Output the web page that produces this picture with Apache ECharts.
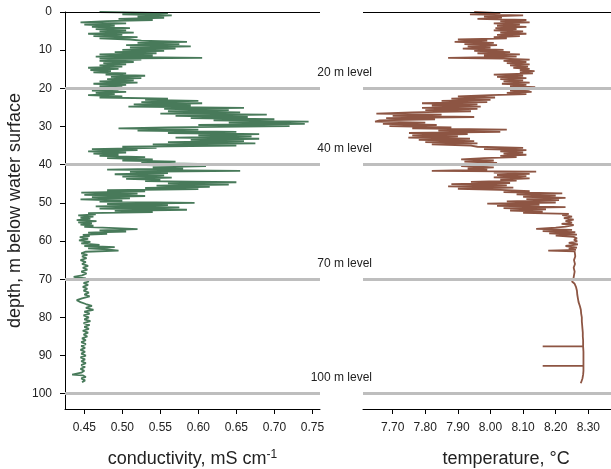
<!DOCTYPE html>
<html><head><meta charset="utf-8">
<script src="https://cdn.jsdelivr.net/npm/echarts@6/dist/echarts.min.js"></script>
<style>html,body{margin:0;padding:0;background:#fff}#c{width:611px;height:469px}</style>
</head><body><div id="c"></div>
<script>
const depthTicks = [0,10,20,30,40,50,60,70,80,90,100];
const condTicks = [0.45,0.50,0.55,0.60,0.65,0.70,0.75];
const tempTicks = [7.70,7.80,7.90,8.00,8.10,8.20,8.30];
const levels = [20,40,70,100];
const levelLabels = ['20 m level','40 m level','70 m level','100 m level'];

const condDepth = [
0.0,0.3,0.6,0.9,1.2,1.5,1.8,2.1,2.4,2.7,
3.0,3.3,3.6,3.9,4.2,4.5,4.8,5.1,5.4,5.7,
6.0,6.3,6.6,6.9,7.2,7.5,7.8,8.1,8.4,8.7,
9.0,9.3,9.6,9.9,10.2,10.5,10.8,11.1,11.4,11.7,
12.0,12.2,12.5,12.8,13.1,13.4,13.7,14.0,14.3,14.6,
14.9,15.2,15.5,15.8,16.1,16.4,16.7,17.0,17.3,17.6,
17.9,18.2,18.5,18.8,19.1,19.4,19.7,20.0,20.3,20.6,
20.9,21.2,21.5,21.8,22.1,22.4,22.7,23.0,23.3,23.6,
23.9,24.2,24.5,24.8,25.1,25.4,25.7,26.0,26.3,26.6,
26.9,27.2,27.5,27.8,28.1,28.4,28.7,29.0,29.3,29.6,
29.9,30.2,30.5,30.8,31.1,31.4,31.7,32.0,32.3,32.6,
32.9,33.2,33.5,33.8,34.1,34.4,34.7,35.0,35.3,35.6,
35.9,36.2,36.5,36.8,37.1,37.4,37.7,38.0,38.3,38.6,
38.9,39.2,39.5,39.8,40.1,40.4,40.7,41.0,41.3,41.6,
41.9,42.2,42.5,42.8,43.1,43.4,43.7,44.0,44.3,44.6,
44.9,45.2,45.5,45.8,46.1,46.4,46.7,47.0,47.3,47.6,
47.9,48.2,48.5,48.8,49.1,49.4,49.7,50.0,50.3,50.6,
50.9,51.2,51.5,51.8,52.1,52.4,52.7,53.0,53.3,53.6,
53.9,54.2,54.5,54.8,55.1,55.4,55.7,56.0,56.3,56.6,
56.9,57.2,57.5,57.8,58.1,58.4,58.7,59.0,59.4,59.8,
60.2,60.6,61.0,61.3,61.6,61.9,62.2,62.5,62.8,63.2,
63.6,64.0,64.5,65.0,65.5,66.0,66.5,67.0,67.5,68.0,
68.5,69.0,69.4,69.8,70.2,70.6,71.0,71.5,72.0,72.5,
73.0,73.5,74.0,74.5,75.0,75.5,76.0,76.5,77.0,77.5,
78.0,78.5,79.0,79.5,80.0,80.5,81.0,81.5,82.0,82.5,
83.0,83.5,84.0,84.5,85.0,85.5,86.0,86.5,87.0,87.5,
88.0,88.5,89.0,89.5,90.0,90.5,91.0,91.5,92.0,92.5,
93.0,93.5,94.0,94.5,95.0,95.2,95.6,96.0,96.5,97.0
];
const condValue = [
0.470,0.560,0.500,0.565,0.520,0.555,0.495,0.540,0.480,0.445,
0.505,0.450,0.490,0.460,0.510,0.465,0.505,0.470,0.515,0.455,
0.500,0.462,0.520,0.470,0.510,0.525,0.585,0.520,0.575,0.505,
0.590,0.510,0.570,0.500,0.555,0.490,0.545,0.470,0.540,0.465,
0.605,0.470,0.525,0.470,0.515,0.475,0.505,0.470,0.500,0.455,
0.495,0.458,0.485,0.462,0.505,0.478,0.530,0.485,0.525,0.480,
0.515,0.470,0.520,0.462,0.505,0.470,0.500,0.446,0.495,0.460,
0.505,0.465,0.490,0.455,0.500,0.470,0.560,0.530,0.600,0.525,
0.605,0.515,0.590,0.508,0.660,0.555,0.640,0.560,0.655,0.550,
0.690,0.570,0.665,0.590,0.700,0.620,0.745,0.640,0.740,0.600,
0.720,0.560,0.495,0.600,0.520,0.650,0.560,0.680,0.600,0.670,
0.570,0.680,0.590,0.660,0.560,0.675,0.540,0.650,0.500,0.545,
0.460,0.520,0.455,0.505,0.462,0.495,0.470,0.530,0.480,0.540,
0.500,0.570,0.525,0.600,0.530,0.610,0.540,0.580,0.480,0.655,
0.510,0.560,0.490,0.555,0.500,0.565,0.505,0.550,0.530,0.650,
0.560,0.640,0.545,0.615,0.530,0.600,0.480,0.530,0.446,0.520,
0.450,0.530,0.460,0.510,0.445,0.500,0.470,0.595,0.480,0.560,
0.465,0.575,0.470,0.585,0.490,0.540,0.455,0.465,0.442,0.462,
0.445,0.458,0.440,0.466,0.442,0.460,0.445,0.462,0.450,0.490,
0.520,0.470,0.505,0.455,0.480,0.448,0.457,0.444,0.455,0.443,
0.458,0.446,0.470,0.450,0.490,0.455,0.480,0.495,0.452,0.446,
0.454,0.447,0.453,0.445,0.452,0.447,0.455,0.448,0.454,0.446,
0.453,0.447,0.436,0.452,0.448,0.456,0.449,0.455,0.448,0.454,
0.449,0.456,0.450,0.457,0.447,0.440,0.445,0.452,0.460,0.452,
0.462,0.450,0.457,0.449,0.456,0.450,0.458,0.449,0.457,0.450,
0.456,0.448,0.455,0.449,0.454,0.447,0.452,0.446,0.452,0.446,
0.451,0.445,0.451,0.446,0.452,0.445,0.451,0.446,0.452,0.446,
0.451,0.445,0.450,0.446,0.434,0.448,0.452,0.446,0.451,0.447
];

const tempDepth = [
0.0,0.3,0.6,0.9,1.2,1.5,1.8,2.1,2.4,2.7,
3.0,3.3,3.6,3.9,4.2,4.5,4.8,5.1,5.4,5.7,
6.0,6.3,6.6,6.9,7.2,7.5,7.8,8.1,8.4,8.7,
9.0,9.3,9.6,9.9,10.2,10.5,10.8,11.1,11.4,11.7,
12.0,12.2,12.5,12.8,13.1,13.4,13.7,14.0,14.3,14.6,
14.9,15.2,15.5,15.8,16.1,16.4,16.7,17.0,17.3,17.6,
17.9,18.2,18.5,18.8,19.1,19.4,19.7,20.0,20.3,20.6,
20.9,21.2,21.5,21.8,22.1,22.4,22.7,23.0,23.3,23.6,
23.9,24.2,24.5,24.8,25.1,25.4,25.7,26.0,26.3,26.6,
26.9,27.2,27.5,27.8,28.1,28.4,28.7,29.0,29.3,29.6,
29.9,30.2,30.5,30.8,31.1,31.4,31.7,32.0,32.3,32.6,
32.9,33.2,33.5,33.8,34.1,34.4,34.7,35.0,35.3,35.6,
35.9,36.2,36.5,36.8,37.1,37.4,37.7,38.0,38.3,38.6,
38.9,39.2,39.5,39.8,40.1,40.4,40.7,41.0,41.3,41.6,
41.8,42.1,42.4,42.7,43.0,43.3,43.6,43.9,44.2,44.5,
44.8,45.1,45.4,45.7,46.0,46.3,46.6,46.9,47.2,47.5,
47.8,48.1,48.4,48.7,49.0,49.3,49.6,49.9,50.2,50.5,
50.8,51.1,51.4,51.7,52.0,52.3,52.6,52.9,53.2,53.6,
54.0,54.4,54.8,55.2,55.5,55.8,56.2,56.5,56.8,57.1,
57.4,57.7,58.0,58.3,58.6,58.9,59.3,59.7,60.1,60.5,
60.9,61.3,61.7,62.0,62.3,62.5,62.7,63.2,64.0,65.0,
66.0,67.0,68.0,69.0,70.0,70.6,71.2,72.0,73.0,74.0,
75.0,76.0,77.0,78.0,79.0,80.0,81.0,82.0,83.0,84.0,
85.0,86.0,87.0,87.6,87.6,87.6,88.0,89.0,90.0,91.0,
92.0,92.7,92.7,92.7,93.0,94.0,95.0,96.0,97.0,97.2
];
const tempValue = [
7.950,8.030,7.937,8.100,7.980,8.035,7.960,8.110,8.030,8.120,
8.010,8.090,8.020,8.110,8.015,8.080,8.010,8.100,8.030,8.110,
8.020,8.090,8.010,8.050,7.900,7.990,7.890,8.010,7.920,8.020,
7.930,8.000,7.915,8.040,7.950,8.060,7.960,8.090,7.980,8.080,
7.870,8.040,8.120,8.040,8.110,8.050,8.120,8.060,8.115,8.070,
8.120,8.090,8.135,8.090,8.130,8.010,8.100,8.020,8.110,8.030,
8.100,8.040,8.120,8.035,8.110,8.060,8.137,8.050,8.120,8.060,
8.126,8.050,8.110,8.000,7.900,8.014,7.880,8.000,7.850,7.990,
7.790,7.960,7.820,7.970,7.790,7.960,7.800,7.940,7.760,7.650,
7.850,7.700,7.950,7.680,7.830,7.660,7.646,7.800,7.670,7.835,
7.690,7.880,7.760,8.050,7.840,8.030,7.750,7.930,7.760,7.900,
7.748,7.937,7.780,7.950,7.800,7.960,7.820,7.940,7.960,8.100,
7.980,8.110,8.030,8.100,8.040,8.110,8.030,8.080,7.980,7.910,
8.010,7.920,8.020,7.930,8.000,7.910,8.010,7.930,7.990,7.820,
8.140,8.010,8.120,8.020,8.110,8.010,8.120,8.030,8.080,7.940,
8.060,7.880,8.050,7.870,8.070,7.900,8.030,8.120,8.040,8.220,
8.080,8.200,8.100,8.230,8.110,8.210,8.050,8.200,7.990,8.150,
8.020,8.230,8.040,8.170,8.060,8.160,8.100,8.240,8.220,8.250,
8.225,8.255,8.230,8.250,8.218,8.255,8.230,8.200,8.140,8.250,
8.160,8.260,8.180,8.265,8.200,8.255,8.265,8.256,8.266,8.240,
8.268,8.230,8.265,8.240,8.262,8.177,8.258,8.255,8.260,8.256,
8.259,8.255,8.258,8.256,8.254,8.250,8.258,8.262,8.265,8.266,
8.268,8.270,8.274,8.277,8.278,8.280,8.280,8.281,8.282,8.283,
8.283,8.284,8.284,8.284,8.160,8.284,8.284,8.285,8.285,8.285,
8.285,8.285,8.160,8.285,8.285,8.285,8.284,8.282,8.278,8.276
];

const FONT = '"Liberation Sans", Arial, Helvetica, sans-serif';
const TXT = '#222';
const chart = echarts.init(document.getElementById('c'), null, {renderer: 'canvas'});

function xAxisCfg(grid, min, max, ticks, name, rich) {
  return {
    type: 'value', gridIndex: grid, min: min, max: max,
    axisLine: {show: true, onZero: false, lineStyle: {color: '#000', width: 1}},
    axisTick: {show: true, length: 5, customValues: ticks, lineStyle: {color: '#000', width: 1}},
    axisLabel: {customValues: ticks, formatter: v => v.toFixed(2), margin: 13, fontSize: 12, color: TXT, fontFamily: FONT},
    splitLine: {show: false},
    name: name, nameLocation: 'middle', nameGap: 40,
    nameTextStyle: {fontSize: 18, color: TXT, fontFamily: FONT, lineHeight: 20, rich: rich || {}}
  };
}

const levelLine = (xi, yi) => ({
  type: 'line', xAxisIndex: xi, yAxisIndex: yi, data: [], z: 1, silent: true,
  markLine: {
    silent: true, symbol: 'none', animation: false, label: {show: false},
    lineStyle: {color: '#bebebe', width: 3, type: 'solid'},
    data: levels.map(l => ({yAxis: l})).concat([{yAxis: 0, lineStyle: {color: '#000', width: 1, type: 'solid'}}])
  }
});

chart.setOption({
  animation: false,
  grid: [
    {left: 65, top: 12, width: 255, height: 397, containLabel: false, outerBoundsMode: 'none'},
    {left: 363, top: 12, width: 286, height: 397, containLabel: false, outerBoundsMode: 'none'}
  ],
  xAxis: [
    xAxisCfg(0, 0.4246, 0.760, condTicks, 'conductivity, mS cm{sup|-1}',
      {sup: {fontSize: 12, verticalAlign: 'top', lineHeight: 20, color: TXT, fontFamily: FONT, padding: [0, 0, 6, 0]}}),
    xAxisCfg(1, 7.609, 8.486, tempTicks, 'temperature, °C')
  ],
  yAxis: [
    {
      type: 'value', gridIndex: 0, inverse: true, min: 0, max: 104,
      axisLine: {show: true, onZero: false, lineStyle: {color: '#000', width: 1}},
      axisTick: {show: true, length: 5, customValues: depthTicks, lineStyle: {color: '#000'}},
      axisLabel: {customValues: depthTicks, margin: 13, fontSize: 12, color: TXT, fontFamily: FONT},
      splitLine: {show: false},
      name: 'depth, m below water surface', nameLocation: 'middle', nameGap: 41,
      nameTextStyle: {fontSize: 18, color: TXT, fontFamily: FONT}
    },
    {type: 'value', gridIndex: 1, inverse: true, min: 0, max: 104, show: false}
  ],
  series: [
    levelLine(0, 0),
    levelLine(1, 1),
    {
      type: 'line', xAxisIndex: 0, yAxisIndex: 0, z: 3, showSymbol: false, silent: true,
      lineStyle: {color: '#487a5a', width: 1.8},
      data: condValue.map((v, i) => [v, condDepth[i]])
    },
    {
      type: 'line', xAxisIndex: 1, yAxisIndex: 1, z: 3, showSymbol: false, silent: true,
      lineStyle: {color: '#8d5543', width: 1.8},
      data: tempValue.map((v, i) => [v, tempDepth[i]])
    }
  ]
});

const gfx = levels.map((l, i) => {
  const y = chart.convertToPixel({yAxisIndex: 0}, l);
  return {
    type: 'text', x: 372, y: y - 16, silent: true,
    style: {text: levelLabels[i], fill: TXT, font: '12px ' + FONT, textAlign: 'right', textVerticalAlign: 'middle'}
  };
});
chart.setOption({graphic: gfx});
</script>
</body></html>
